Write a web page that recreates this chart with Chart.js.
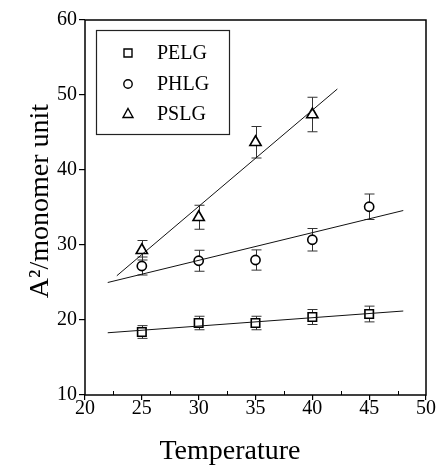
<!DOCTYPE html>
<html>
<head>
<meta charset="utf-8">
<script src="https://cdn.jsdelivr.net/npm/chart.js"></script>
<style>
  body { margin: 0; background: #fff; }
  #wrap { width: 438px; height: 467px; }
</style>
</head>
<body>
<div id="wrap"><canvas id="myChart" width="438" height="467"></canvas></div>
<script>
// data ........................................................................
const temps = [25, 30, 35, 40, 45];
const pslgTemps = [25, 30, 35, 40];

const pelgVals = [18.4, 19.6, 19.6, 20.4, 20.8];
const pelgErr  = [0.85, 0.9, 0.9, 1.0, 1.05];
const phlgVals = [27.2, 27.9, 28.0, 30.7, 35.1];
const phlgErr  = [1.2, 1.4, 1.35, 1.5, 1.7];
const pslgVals = [29.3, 33.7, 43.7, 47.4];
const pslgErr  = [1.3, 1.6, 2.1, 2.3];

// linear fits, end points
const fitX     = [22, 48];
const pelgFitY = [18.3, 21.2];
const phlgFitY = [25.0, 34.6];
const pslgFitX = [22.8, 42.2];
const pslgFitY = [25.9, 50.8];

const seriesNames = ['PELG', 'PHLG', 'PSLG'];
const xTicks = [20, 25, 30, 35, 40, 45, 50];
const yTicks = [10, 20, 30, 40, 50, 60];
const xMinor = [22.5, 27.5, 32.5, 37.5, 42.5, 47.5];

const serif = "'Liberation Serif', 'Times New Roman', serif";

function pts(xs, ys){
  return xs.map(function(x, i){ return { x: x, y: ys[i] }; });
}

function fitLine(xs, ys){
  return {
    type: 'line',
    data: pts(xs, ys),
    borderColor: '#111',
    borderWidth: 1,
    pointRadius: 0,
    fill: false,
    order: 0
  };
}

function markers(label, xs, ys, errs, style, r){
  return {
    type: 'scatter',
    label: label,
    data: pts(xs, ys),
    errs: errs,
    pointStyle: style,
    pointRadius: r,
    pointHoverRadius: r,
    pointBorderWidth: 1.6,
    pointBorderColor: '#000',
    pointBackgroundColor: '#fff',
    order: 1
  };
}

// shape for the legend box
function drawShape(ctx, style, x, y){
  ctx.beginPath();
  if (style === 'rect'){
    ctx.rect(x - 4, y - 4, 8, 8);
  } else if (style === 'circle'){
    ctx.arc(x, y, 4.2, 0, Math.PI * 2);
  } else {
    ctx.moveTo(x, y - 5.5);
    ctx.lineTo(x + 5, y + 3.5);
    ctx.lineTo(x - 5, y + 3.5);
    ctx.closePath();
  }
  ctx.stroke();
}

// extras: error bars, frame, minor ticks, titles, legend ..................
const extras = {
  id: 'extras',
  beforeDatasetsDraw(chart){
    const ctx = chart.ctx, xs = chart.scales.x, ys = chart.scales.y;
    ctx.save();
    ctx.strokeStyle = '#333';
    ctx.lineWidth = 1;
    chart.data.datasets.forEach(function(ds){
      if (!ds.errs) return;
      ds.data.forEach(function(p, i){
        const px = Math.round(xs.getPixelForValue(p.x)) + 0.5;
        const top = ys.getPixelForValue(p.y + ds.errs[i]);
        const bot = ys.getPixelForValue(p.y - ds.errs[i]);
        ctx.beginPath();
        ctx.moveTo(px, top); ctx.lineTo(px, bot);
        ctx.moveTo(px - 5, top); ctx.lineTo(px + 5, top);
        ctx.moveTo(px - 5, bot); ctx.lineTo(px + 5, bot);
        ctx.stroke();
      });
    });
    ctx.restore();
  },
  afterDraw(chart){
    const ctx = chart.ctx, a = chart.chartArea, xs = chart.scales.x;
    ctx.save();
    // frame
    ctx.strokeStyle = '#000';
    ctx.lineWidth = 1.5;
    ctx.strokeRect(a.left, a.top, a.right - a.left, a.bottom - a.top);
    // minor ticks on x
    ctx.lineWidth = 1;
    xMinor.forEach(function(v){
      const px = Math.round(xs.getPixelForValue(v)) + 0.5;
      ctx.beginPath();
      ctx.moveTo(px, a.bottom); ctx.lineTo(px, a.bottom - 4);
      ctx.stroke();
    });
    // axis titles
    ctx.fillStyle = '#000';
    ctx.font = '28px ' + serif;
    ctx.textAlign = 'center';
    ctx.textBaseline = 'alphabetic';
    ctx.fillText('Temperature', 230, 459);
    ctx.save();
    ctx.translate(48, 201);
    ctx.rotate(-Math.PI / 2);
    ctx.fillText('A\u00B2/monomer unit', 0, 0);
    ctx.restore();
    // legend
    ctx.strokeStyle = '#222';
    ctx.lineWidth = 1.2;
    ctx.strokeRect(96.5, 30.5, 133, 104);
    ctx.font = '20px ' + serif;
    ctx.textAlign = 'left';
    ctx.textBaseline = 'middle';
    const rows = [53, 84, 114];
    const styles = ['rect', 'circle', 'triangle'];
    ctx.lineWidth = 1.4;
    ctx.strokeStyle = '#000';
    seriesNames.forEach(function(name, i){
      drawShape(ctx, styles[i], 128, rows[i]);
      ctx.fillText(name, 157, rows[i] + 1);
    });
    ctx.restore();
  }
};

let ctx = document.getElementById('myChart');
let myChart = new Chart(ctx, {
  type: 'scatter',
  data: {
    datasets: [
      fitLine(fitX, pelgFitY),
      fitLine(fitX, phlgFitY),
      fitLine(pslgFitX, pslgFitY),
      markers(seriesNames[0], temps, pelgVals, pelgErr, 'rect', 6),
      markers(seriesNames[1], temps, phlgVals, phlgErr, 'circle', 4.6),
      markers(seriesNames[2], pslgTemps, pslgVals, pslgErr, 'triangle', 6.5)
    ]
  },
  options: {
    responsive: false,
    animation: false,
    layout: { padding: { left: 0, right: 12, top: 20, bottom: 0 } },
    plugins: {
      legend: { display: false },
      tooltip: { enabled: false }
    },
    scales: {
      x: {
        type: 'linear',
        min: 20, max: 50,
        afterBuildTicks: function(s){ s.ticks = xTicks.map(function(v){ return { value: v }; }); },
        afterFit: function(s){ s.height = 72; },
        border: { display: false },
        grid: { drawOnChartArea: false, drawTicks: true, tickLength: 5, tickColor: '#000', lineWidth: 1.2 },
        ticks: { color: '#000', padding: -3, maxRotation: 0, font: { family: serif, size: 20 } }
      },
      y: {
        type: 'linear',
        min: 10, max: 60,
        afterBuildTicks: function(s){ s.ticks = yTicks.map(function(v){ return { value: v }; }); },
        afterFit: function(s){ s.width = 85; },
        border: { display: false },
        grid: { drawOnChartArea: false, drawTicks: true, tickLength: 6, tickColor: '#000', lineWidth: 1.2 },
        ticks: { color: '#000', padding: 2, font: { family: serif, size: 20 } }
      }
    }
  },
  plugins: [extras]
});
</script>
</body>
</html>
